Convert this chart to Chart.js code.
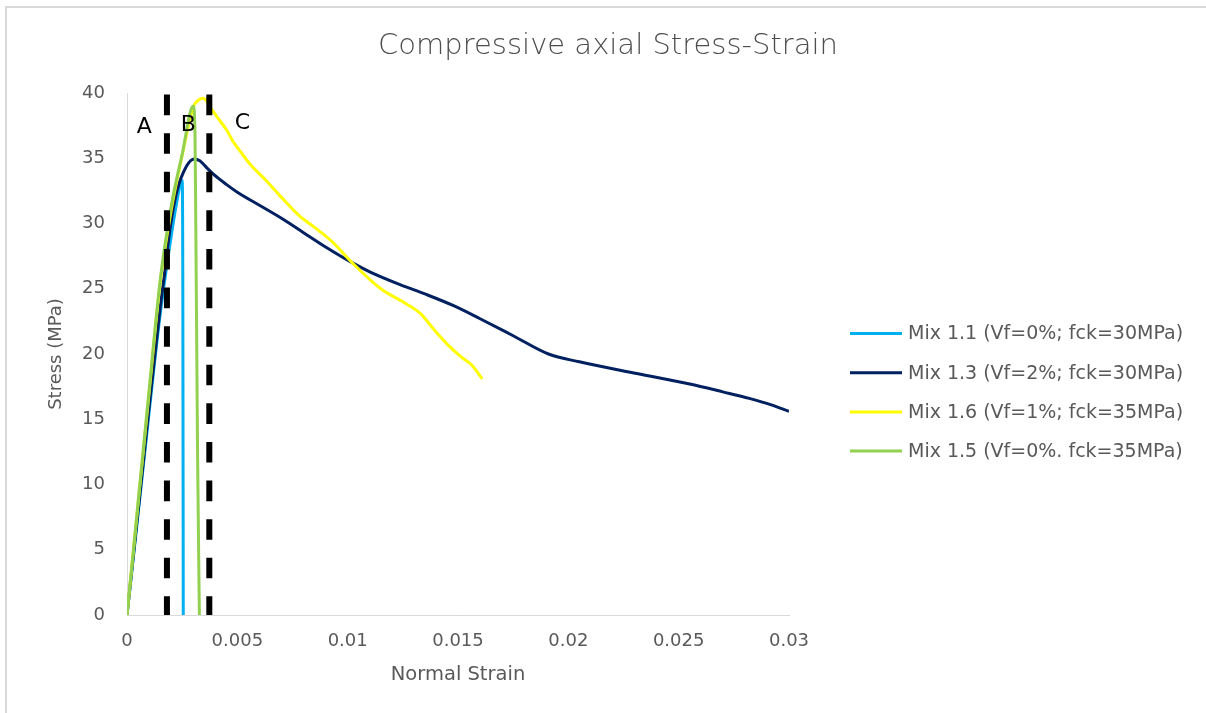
<!DOCTYPE html>
<html>
<head>
<meta charset="utf-8">
<script src="https://cdn.jsdelivr.net/npm/chart.js@4.4.1/dist/chart.umd.min.js"></script>
<style>
  html, body { margin: 0; padding: 0; background: #ffffff; }
  #wrap { position: relative; width: 1206px; height: 713px; overflow: hidden; background: #ffffff; }
  #frame { position: absolute; left: 5px; top: 6px; width: 1400px; height: 900px;
           border-left: 2px solid #d9d9d9; border-top: 2px solid #d9d9d9; pointer-events: none; }
  canvas { display: block; }
</style>
</head>
<body>
<div id="wrap">
  <canvas id="chart" width="1206" height="713"></canvas>
  <div id="frame"></div>
</div>
<script>
// ---- data ----
const seriesLabels = [
  'Mix 1.1 (Vf=0%; fck=30MPa)',
  'Mix 1.3 (Vf=2%; fck=30MPa)',
  'Mix 1.6 (Vf=1%; fck=35MPa)',
  'Mix 1.5 (Vf=0%. fck=35MPa)'
];

const mix11Strain = [0, 0.0005, 0.001, 0.0015, 0.002, 0.00225, 0.0025, 0.00253, 0.00255];
const mix11Stress = [0, 7.7, 15.5, 23.0, 29.0, 31.6, 33.3, 25.0, 0];

const mix13Strain = [0, 0.0005, 0.001, 0.0015, 0.00172, 0.00195, 0.00225, 0.0027, 0.00305, 0.0033,
  0.0036, 0.0039, 0.0045, 0.005, 0.006, 0.007, 0.008, 0.009, 0.0102, 0.011, 0.0124, 0.0135,
  0.0148, 0.016, 0.0175, 0.0191, 0.0205, 0.0231, 0.0255, 0.027, 0.0282, 0.0292, 0.030];
const mix13Stress = [0, 7.9, 15.9, 23.5, 26.4, 29.6, 32.4, 34.4, 34.95, 34.8,
  34.3, 33.8, 33.0, 32.4, 31.4, 30.4, 29.3, 28.2, 27.0, 26.3, 25.3, 24.6,
  23.7, 22.7, 21.4, 20.0, 19.4, 18.5, 17.7, 17.1, 16.6, 16.1, 15.6];

const mix16Strain = [0, 0.0005, 0.001, 0.0015, 0.002, 0.0025, 0.003, 0.0032, 0.00345, 0.0036,
  0.00384, 0.0042, 0.0045, 0.0048, 0.0051, 0.0056, 0.0063, 0.007, 0.0078, 0.0085, 0.0093, 0.0102,
  0.0115, 0.0125, 0.0133, 0.0139, 0.0146, 0.0152, 0.0156, 0.0161];
const mix16Stress = [0, 8.5, 17.0, 25.4, 31.0, 35.2, 38.9, 39.4, 39.6, 39.4,
  38.75, 37.9, 37.2, 36.3, 35.6, 34.5, 33.3, 32.0, 30.6, 29.7, 28.6, 27.0,
  25.0, 24.0, 23.1, 21.9, 20.6, 19.7, 19.2, 18.1];

const mix15Strain = [0, 0.0005, 0.001, 0.0015, 0.002, 0.0025, 0.003, 0.00308, 0.00311, 0.00314, 0.0032, 0.00328];
const mix15Stress = [0, 8.6, 17.2, 25.6, 31.3, 35.3, 39.0, 37.0, 31.7, 25.0, 12.0, 0];

const seriesColors = ['#00b0f0', '#002060', '#ffff00', '#92d050'];

// vertical dashed zone boundaries and the zone letters
const zoneBoundaryStrain = [0.00181, 0.00373];
const zoneBoundaryStress = [-0.15, 40];
const zoneLetters = ['A', 'B', 'C'];
const zoneLetterStrain = [0.00078, 0.00278, 0.00523];
const zoneLetterStress = [37.35, 37.5, 37.7];

// axes
const strainTicks = [0, 0.005, 0.01, 0.015, 0.02, 0.025, 0.03];
const strainTickLabels = ['0', '0.005', '0.01', '0.015', '0.02', '0.025', '0.03'];
const stressTicks = [0, 5, 10, 15, 20, 25, 30, 35, 40];
const stressTickLabels = ['0', '5', '10', '15', '20', '25', '30', '35', '40'];

const chartTitle = 'Compressive axial Stress-Strain';
const xTitle = 'Normal Strain';
const yTitle = 'Stress (MPa)';

// ---- build datasets ----
const FONT = '"DejaVu Sans", "Open Sans", sans-serif';
const TEXT = '#595959';
const pts = (xs, ys) => xs.map((x, i) => ({ x, y: ys[i] }));

const curveData = [
  pts(mix11Strain, mix11Stress),
  pts(mix13Strain, mix13Stress),
  pts(mix16Strain, mix16Stress),
  pts(mix15Strain, mix15Stress)
];

const datasets = curveData.map((d, i) => ({
  label: seriesLabels[i],
  data: d,
  showLine: true,
  borderColor: seriesColors[i],
  backgroundColor: seriesColors[i],
  borderWidth: 3,
  pointRadius: 0,
  cubicInterpolationMode: 'monotone',
  order: 4 - i,
  inLegend: true
}));

zoneBoundaryStrain.forEach((sx) => {
  datasets.push({
    label: 'zone',
    data: pts([sx, sx], zoneBoundaryStress),
    showLine: true,
    borderColor: '#000000',
    borderWidth: 6,
    borderDash: [20.6, 18],
    borderCapStyle: 'butt',
    pointRadius: 0,
    tension: 0,
    order: 0,
    inLegend: false
  });
});

// ---- legend drawn in its own layout box on the right ----
const legendGutter = {
  id: 'legendGutter',
  beforeInit(chart) {
    const box = {
      position: 'right',
      weight: 10,
      fullSize: false,
      options: { stackWeight: 1 },
      top: 0, left: 0, right: 0, bottom: 0, width: 0, height: 0,
      isHorizontal() { return false; },
      update(maxWidth, maxHeight) {
        this.width = 417;
        this.height = maxHeight;
      },
      draw() {
        const ctx = chart.ctx;
        const items = chart.data.datasets.filter(d => d.inLegend);
        const lineX0 = this.left + 61;
        const lineX1 = lineX0 + 52;
        const rowY0 = 333.5;
        const rowStep = 39.2;
        ctx.save();
        ctx.font = '19px ' + FONT;
        ctx.textBaseline = 'middle';
        ctx.textAlign = 'left';
        items.forEach((d, i) => {
          const y = rowY0 + i * rowStep;
          ctx.strokeStyle = d.borderColor;
          ctx.lineWidth = 3;
          ctx.beginPath();
          ctx.moveTo(lineX0, y);
          ctx.lineTo(lineX1, y);
          ctx.stroke();
          ctx.fillStyle = TEXT;
          ctx.fillText(d.label, lineX1 + 6, y + 1);
        });
        ctx.restore();
      }
    };
    Chart.layouts.addBox(chart, box);
  }
};

// zone letters placed at data coordinates
const zoneLetterPlugin = {
  id: 'zoneLetters',
  afterDatasetsDraw(chart) {
    const { ctx, scales: { x, y } } = chart;
    ctx.save();
    ctx.font = '22px ' + FONT;
    ctx.fillStyle = '#000000';
    ctx.textAlign = 'center';
    ctx.textBaseline = 'middle';
    zoneLetters.forEach((t, i) => {
      ctx.fillText(t, x.getPixelForValue(zoneLetterStrain[i]), y.getPixelForValue(zoneLetterStress[i]));
    });
    ctx.restore();
  }
};

const whiteBg = {
  id: 'whiteBg',
  beforeDraw(chart) {
    const ctx = chart.ctx;
    ctx.save();
    ctx.fillStyle = '#ffffff';
    ctx.fillRect(0, 0, chart.width, chart.height);
    ctx.restore();
  }
};

new Chart(document.getElementById('chart'), {
  type: 'scatter',
  data: { datasets },
  plugins: [whiteBg, legendGutter, zoneLetterPlugin],
  options: {
    responsive: false,
    animation: false,
    devicePixelRatio: 1,
    layout: { padding: { left: 10, right: 0, top: 0, bottom: 0 } },
    plugins: {
      legend: { display: false },
      tooltip: { enabled: false },
      title: {
        display: true,
        text: chartTitle,
        color: '#4d4d4d',
        font: { family: FONT, size: 29, weight: 200 },
        padding: { top: 28.6, bottom: 29.6 }
      }
    },
    scales: {
      x: {
        type: 'linear',
        min: 0, max: 0.03,
        afterBuildTicks(s) { s.ticks = strainTicks.map(v => ({ value: v })); },
        afterFit(s) { s.height = 98; },
        grid: { display: false, drawTicks: false },
        border: { display: true, color: '#d9d9d9', width: 1 },
        ticks: {
          color: TEXT,
          font: { family: FONT, size: 18 },
          padding: 16,
          maxRotation: 0,
          autoSkip: false,
          callback: (v, i) => strainTickLabels[i]
        },
        title: {
          display: true,
          text: xTitle,
          color: TEXT,
          font: { family: FONT, size: 19.5 },
          padding: { top: 0, bottom: 26.5 }
        }
      },
      y: {
        type: 'linear',
        min: 0, max: 40,
        afterBuildTicks(s) { s.ticks = stressTicks.map(v => ({ value: v })); },
        afterFit(s) { s.width = 117; },
        grid: { display: false, drawTicks: false },
        border: { display: true, color: '#d9d9d9', width: 1 },
        ticks: {
          color: TEXT,
          font: { family: FONT, size: 18 },
          padding: 22,
          autoSkip: false,
          callback: (v, i) => stressTickLabels[i]
        },
        title: {
          display: true,
          text: yTitle,
          color: TEXT,
          font: { family: FONT, size: 18 },
          padding: { top: 36, bottom: 0 }
        }
      }
    }
  }
});
</script>
</body>
</html>
